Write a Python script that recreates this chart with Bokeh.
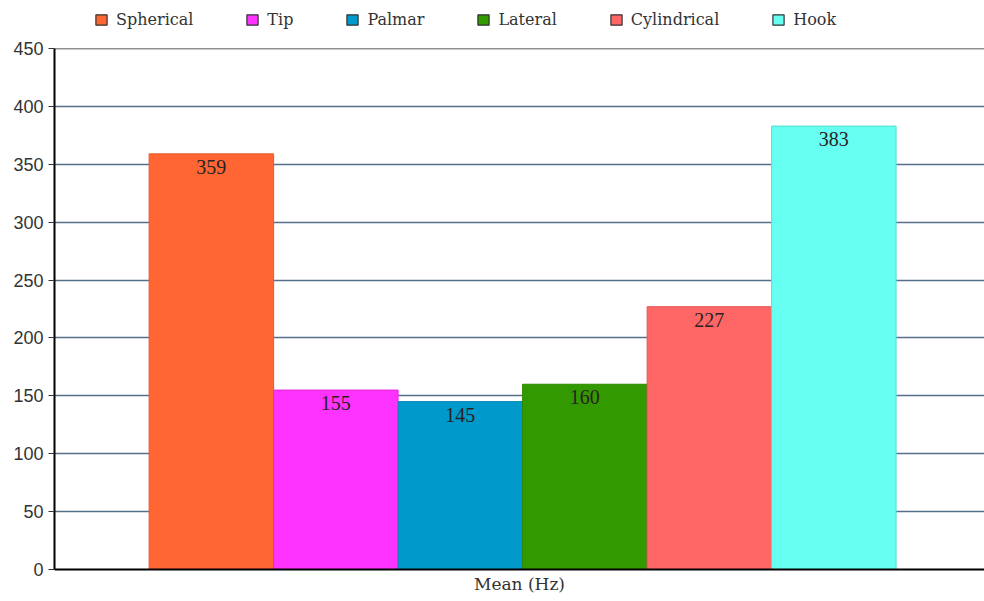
import numpy as np
from bokeh.plotting import figure
from bokeh.layouts import column
from bokeh.models import (ColumnDataSource, Range1d, FixedTicker, Legend, LegendItem,
                          Span, LabelSet)
from bokeh.embed import file_html
from bokeh.resources import INLINE

# Mean frequency (Hz) per grasp type
grasps = ["Spherical", "Tip", "Palmar", "Lateral", "Cylindrical", "Hook"]
mean_hz = [359, 155, 145, 160, 227, 383]
fill_colors = ["#FF6633", "#FF33FF", "#0099CC", "#339900", "#FF6666", "#66FFF2"]
edge_colors = ["#E55A2D", "#E02EE0", "#0088B5", "#2E8A00", "#E05A5A", "#55DDD2"]
y_ticks = [0, 50, 100, 150, 200, 250, 300, 350, 400, 450]
x_label = "Mean (Hz)"

y_max = y_ticks[-1]
n = len(grasps)
pad_left, pad_right = 0.76, 0.71

# ---- legend strip across the top (no axes) ----
leg_fig = figure(width=984, height=40, output_backend="svg", toolbar_location=None,
                 x_range=Range1d(0, 1), y_range=Range1d(0, 1),
                 x_axis_location=None, y_axis_location=None,
                 min_border_left=0, min_border_right=0, min_border_top=0,
                 min_border_bottom=0, outline_line_color=None)
leg_fig.grid.visible = False

# ---- main bar chart ----
p = figure(width=984, height=561, output_backend="svg", toolbar_location=None,
           x_range=Range1d(-0.5 - pad_left, n - 0.5 + pad_right),
           y_range=Range1d(0, y_max),
           min_border_left=54, min_border_right=0, min_border_top=8,
           min_border_bottom=32)
p.outline_line_color = None
p.background_fill_color = "white"
p.border_fill_color = "white"

legend_items = []
for i, (g, v, fc, ec) in enumerate(zip(grasps, mean_hz, fill_colors, edge_colors)):
    src = ColumnDataSource(dict(x=[i], top=[v], label=[str(v)]))
    p.vbar(x="x", top="top", bottom=0, width=1.0, source=src,
           fill_color=fc, line_color=ec, line_width=1)
    p.add_layout(LabelSet(x="x", y="top", text="label", source=src,
                          text_align="center", text_baseline="middle", y_offset=-13,
                          text_font="Liberation Serif", text_font_size="20px",
                          text_color="#2a2222"))
    # legend swatch with a dark outline
    swatch = leg_fig.vbar(x=np.array([np.nan]), top=np.array([np.nan]), width=1.0,
                          fill_color=fc, line_color="#333333", line_width=1.2)
    legend_items.append(LegendItem(label=g, renderers=[swatch]))

legend = Legend(items=legend_items, orientation="horizontal",
                location=(40, 11), padding=0, margin=0, spacing=52,
                glyph_width=14, glyph_height=13, label_standoff=8,
                label_text_font="DejaVu Serif", label_text_font_size="16px",
                label_text_color="#333333", border_line_color=None,
                background_fill_alpha=0)
leg_fig.add_layout(legend, "center")

# top frame edge
p.add_layout(Span(location=y_max, dimension="width", line_color="#222222",
                  line_width=1.5))

# y axis
p.yaxis.ticker = FixedTicker(ticks=y_ticks)
p.yaxis.axis_line_color = "black"
p.yaxis.axis_line_width = 2
p.yaxis.major_tick_in = 0
p.yaxis.major_tick_out = 6
p.yaxis.major_tick_line_color = "#333333"
p.yaxis.minor_tick_line_color = None
p.yaxis.major_label_standoff = 5
p.yaxis.major_label_text_font = "Liberation Sans"
p.yaxis.major_label_text_font_size = "18px"
p.yaxis.major_label_text_color = "#333333"

# x axis: label only
p.xaxis.ticker = FixedTicker(ticks=[])
p.xaxis.axis_line_color = "black"
p.xaxis.axis_line_width = 2
p.xaxis.major_tick_line_color = None
p.xaxis.minor_tick_line_color = None
p.xaxis.axis_label = x_label
p.xaxis.axis_label_standoff = 4
p.xaxis.axis_label_text_font = "DejaVu Serif"
p.xaxis.axis_label_text_font_size = "17px"
p.xaxis.axis_label_text_font_style = "normal"
p.xaxis.axis_label_text_color = "#333333"

p.xgrid.grid_line_color = None
p.ygrid.ticker = FixedTicker(ticks=y_ticks)
p.ygrid.grid_line_color = "#56708a"
p.ygrid.grid_line_width = 1.5

layout = column(leg_fig, p, spacing=0)
open("out.html", "w").write(file_html(layout, INLINE))
